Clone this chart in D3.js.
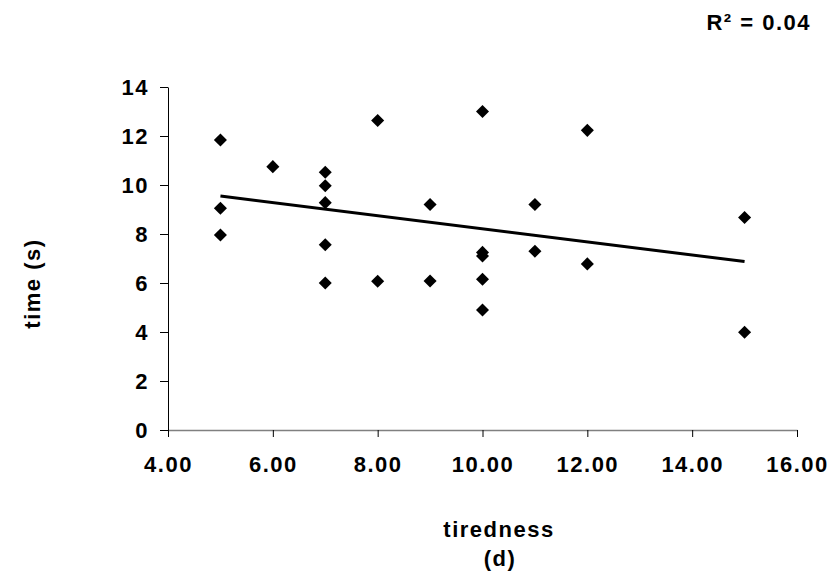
<!DOCTYPE html>
<html>
<head>
<meta charset="utf-8">
<script src="https://cdn.jsdelivr.net/npm/d3@7"></script>
<style>
  html, body { margin: 0; padding: 0; background: #fff; }
  svg text { font-family: "Liberation Sans", Arial, sans-serif; font-weight: bold; fill: #000; }
</style>
</head>
<body>
<svg id="chart" width="838" height="576"></svg>
<script>
// ---- data ----
const tiredness = [5, 5, 5, 6, 7, 7, 7, 7, 7, 8, 8, 9, 9, 10, 10, 10, 10, 10, 11, 11, 12, 12, 15, 15];
const time      = [11.84, 9.05, 7.96, 10.75, 10.52, 9.97, 9.28, 7.56, 6.0, 12.63, 6.07, 9.2, 6.08, 13.0, 7.25, 7.1, 6.15, 4.9, 9.2, 7.3, 12.23, 6.78, 8.67, 3.99];
const xTicks = [4, 6, 8, 10, 12, 14, 16];
const yTicks = [0, 2, 4, 6, 8, 10, 12, 14];
const xTitle = ["tiredness", "(d)"];
const yTitle = "time (s)";
const rLabel = "R² = 0.04";

(function () {
// ---- layout ----
const svg = d3.select("#chart");
const pLeft = 168, pRight = 797, pTop = 87, pBottom = 430;
const x = d3.scaleLinear().domain([4, 16]).range([pLeft, pRight]);
const y = d3.scaleLinear().domain([0, 14]).range([pBottom, pTop]);
const fs = "22px", ls = "1.5px";

// axes
const xAxis = svg.append("g").attr("transform", `translate(0,${pBottom})`)
  .call(d3.axisBottom(x).tickValues(xTicks).tickFormat(d3.format(".2f")).tickSize(7).tickPadding(19).tickSizeOuter(0));
xAxis.select(".domain").attr("stroke", "#808080").attr("stroke-width", 1.5);
xAxis.selectAll(".tick line").attr("stroke", "#000").attr("stroke-width", 1);

const yAxis = svg.append("g").attr("transform", `translate(${pLeft},0)`)
  .call(d3.axisLeft(y).tickValues(yTicks).tickFormat(d3.format("d")).tickSize(8).tickPadding(11).tickSizeOuter(0));
yAxis.select(".domain").attr("stroke", "#000").attr("stroke-width", 1);
yAxis.selectAll(".tick line").attr("stroke", "#000").attr("stroke-width", 1);

svg.selectAll(".tick text")
  .attr("font-family", "Liberation Sans, Arial, sans-serif")
  .attr("font-weight", "bold")
  .attr("font-size", fs)
  .style("letter-spacing", ls)
  .attr("fill", "#000");

// regression trend line
const n = tiredness.length;
const mx = d3.mean(tiredness), my = d3.mean(time);
let sxy = 0, sxx = 0;
for (let i = 0; i < n; i++) { sxy += (tiredness[i] - mx) * (time[i] - my); sxx += (tiredness[i] - mx) ** 2; }
const slope = sxy / sxx, icpt = my - slope * mx;
const xExt = d3.extent(tiredness);
svg.append("path")
  .datum(xExt.map(v => [v, icpt + slope * v]))
  .attr("d", d3.line().x(d => x(d[0])).y(d => y(d[1])))
  .attr("stroke", "#000").attr("stroke-width", 3).attr("fill", "none");

// markers
const sym = d3.symbol().type(d3.symbolSquare).size(85);
svg.append("g").selectAll("path")
  .data(tiredness.map((v, i) => [v, time[i]]))
  .join("path")
  .attr("d", sym)
  .attr("transform", d => `translate(${x(d[0])},${y(d[1])}) rotate(45)`)
  .attr("fill", "#000");

// titles
svg.append("text")
  .attr("transform", "translate(40,283.5) rotate(-90)")
  .attr("text-anchor", "middle")
  .attr("font-size", fs).style("letter-spacing", ls)
  .text(yTitle);

svg.append("text")
  .attr("x", 499).attr("y", 537)
  .attr("text-anchor", "middle")
  .attr("font-size", fs).style("letter-spacing", ls)
  .text(xTitle[0]);
svg.append("text")
  .attr("x", 500).attr("y", 566)
  .attr("text-anchor", "middle")
  .attr("font-size", fs).style("letter-spacing", ls)
  .text(xTitle[1]);

svg.append("text")
  .attr("x", 811).attr("y", 30)
  .attr("text-anchor", "end")
  .attr("font-size", fs).style("letter-spacing", ls)
  .text(rLabel);
})();
</script>
</body>
</html>
